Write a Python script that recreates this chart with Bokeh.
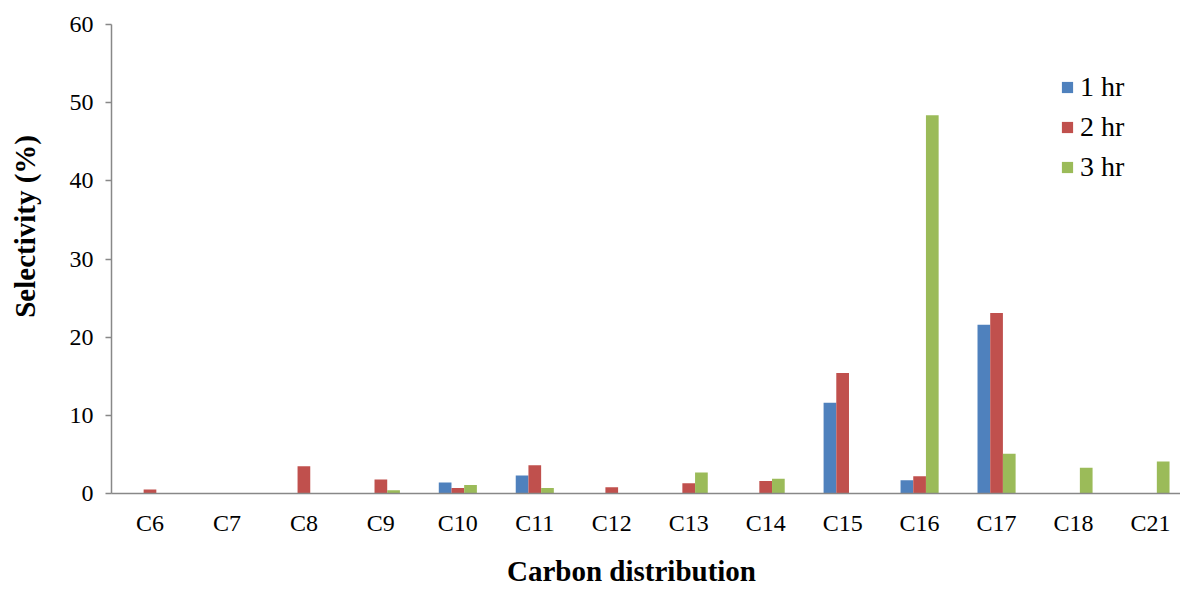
from bokeh.plotting import figure
from bokeh.models import ColumnDataSource, FixedTicker, Legend, LegendItem
from bokeh.transform import dodge
from bokeh.embed import file_html
from bokeh.resources import INLINE

categories = ["C6", "C7", "C8", "C9", "C10", "C11", "C12", "C13", "C14", "C15", "C16", "C17", "C18", "C21"]
hr1 = [0, 0, 0, 0, 1.4, 2.3, 0, 0, 0, 11.6, 1.7, 21.6, 0, 0]
hr2 = [0.5, 0, 3.5, 1.8, 0.7, 3.6, 0.8, 1.3, 1.6, 15.4, 2.2, 23.1, 0, 0]
hr3 = [0, 0, 0, 0.4, 1.1, 0.7, 0, 2.7, 1.9, 0, 48.4, 5.1, 3.3, 4.1]
series_names = ["1 hr", "2 hr", "3 hr"]
colors = ["#4F81BD", "#C0504D", "#9BBB59"]
y_ticks = [0, 10, 20, 30, 40, 50, 60]

pos = list(range(1, len(categories) + 1))
src = ColumnDataSource(dict(x=pos, hr1=hr1, hr2=hr2, hr3=hr3))

FONT = "Liberation Serif"
NB = "\u00a0"
p = figure(width=1180, height=589, output_backend="svg", toolbar_location=None,
           x_range=(0.5, 14.39), y_range=(0, 60),
           min_border_left=111, min_border_right=0, min_border_top=24, min_border_bottom=96)
p.outline_line_color = None
p.xgrid.visible = False
p.ygrid.visible = False

bw = 0.165
renderers = []
for i, (col, c) in enumerate(zip(["hr1", "hr2", "hr3"], colors)):
    r = p.vbar(x=dodge("x", (i - 1) * bw, range=p.x_range), top=col, width=bw, source=src,
               fill_color=c, line_color=None)
    renderers.append(r)

p.xaxis.ticker = FixedTicker(ticks=pos)
p.xaxis.major_label_overrides = {k: v for k, v in zip(pos, categories)}
p.xaxis.major_tick_line_color = None
p.xaxis.minor_tick_line_color = None
p.xaxis.major_label_standoff = 10
p.xaxis.axis_label = "Carbon distribution" + NB * 4
p.xaxis.axis_label_standoff = 16

p.yaxis.ticker = FixedTicker(ticks=y_ticks)
p.yaxis.major_tick_out = 6
p.yaxis.major_tick_in = 0
p.yaxis.minor_tick_line_color = None
p.yaxis.major_label_standoff = 12
p.yaxis.axis_label = NB * 9 + "Selectivity (%)"
p.yaxis.axis_label_standoff = 26

for ax in (p.xaxis, p.yaxis):
    ax.axis_line_color = "#888888"
    ax.axis_line_width = 1.5
    ax.major_tick_line_width = 1.5
    ax.major_label_text_font = FONT
    ax.major_label_text_font_size = "24px"
    ax.major_label_text_color = "black"
    ax.axis_label_text_font = FONT
    ax.axis_label_text_font_size = "29px"
    ax.axis_label_text_font_style = "bold"
    ax.axis_label_text_color = "black"
p.yaxis.major_tick_line_color = "#888888"

legend = Legend(items=[LegendItem(label=n, renderers=[r]) for n, r in zip(series_names, renderers)],
                location=(949, 310), padding=0, spacing=8, border_line_color=None,
                background_fill_alpha=0, glyph_width=14, glyph_height=14, label_standoff=6,
                label_text_font=FONT, label_text_font_size="28px", label_text_color="black")
p.add_layout(legend)

open("out.html", "w").write(file_html(p, INLINE))
